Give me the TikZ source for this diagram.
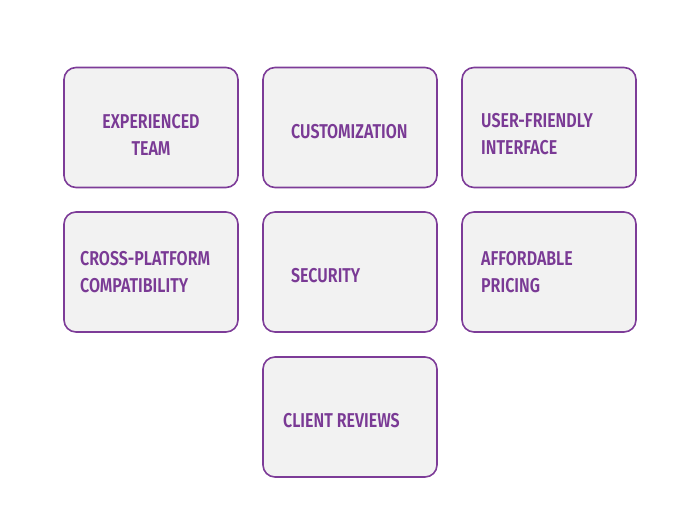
\documentclass[tikz,border=0pt]{standalone}
\usepackage{fontspec}
\newfontfamily\cardfont[FakeStretch=0.8]{Fira Sans SemiBold}
\usepackage{xcolor}
\usepackage{tikz}
\usetikzlibrary{positioning}
\definecolor{plum}{HTML}{7D3C98}
\definecolor{plumtext}{HTML}{7A3A95}
\definecolor{card}{HTML}{F2F2F2}

\begin{document}
\begin{tikzpicture}[x=1pt,y=-1pt]
\tikzset{
 feature/.style={draw=plum,line width=1.6pt,fill=card,rounded corners=12pt,minimum width=174pt,minimum height=120pt,inner sep=0pt},
 label/.style={text=plumtext,font=\cardfont\fontsize{20}{27}\selectfont,inner sep=0pt}
}
\useasboundingbox (0,0) rectangle (700,510);
% top row
\node[feature] (team) at (151,127.5) {};
\node[feature] (custom) at (350,127.5) {};
\node[feature] (ui) at (549,127.5) {};
% middle row
\node[feature] (cross) at (151,272) {};
\node[feature] (secure) at (350,272) {};
\node[feature] (price) at (549,272) {};
% bottom row
\node[feature] (reviews) at (350,417) {};
% texts
\node[label,align=center] (teamtxt) at (151,134.5) {EXPERIENCED\\TEAM};
\node[label,anchor=west] (customtxt) at (291,132) {CUSTOMIZATION};
\node[label,align=left,anchor=west] (uitxt) at (481,134.5) {USER-FRIENDLY\\INTERFACE};
\node[label,align=left,anchor=west] (crosstxt) at (80,272.5) {CROSS-PLATFORM\\COMPATIBILITY};
\node[label,anchor=west] (securetxt) at (291,276) {SECURITY};
\node[label,align=left,anchor=west] (pricetxt) at (481,272.5) {AFFORDABLE\\PRICING};
\node[label,anchor=west] (reviewstxt) at (283,421) {CLIENT REVIEWS};
\end{tikzpicture}
\end{document}
